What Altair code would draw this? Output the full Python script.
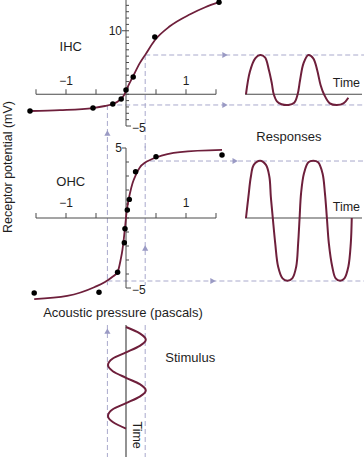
import altair as alt
import pandas as pd

# ---------------- data ----------------
# IHC transfer function: acoustic pressure (Pa) -> receptor potential (mV)
ihc_pts_p = [-1.6, -0.55, -0.22, -0.08, 0.0, 0.12, 0.48, 1.55]
ihc_pts_mv = [-2.64, -2.17, -1.54, -0.75, 0.67, 2.72, 9.0, 14.5]
ihc_curve_p = [-1.6, -1.1, -0.55, -0.35, -0.22, -0.1, -0.03, 0.02, 0.12, 0.23, 0.32, 0.48, 0.73, 1.07, 1.32, 1.55]
ihc_curve_mv = [-2.64, -2.5, -2.17, -1.85, -1.54, -0.9, -0.1, 0.98, 2.87, 4.9, 6.2, 8.5, 10.7, 12.6, 13.7, 14.5]

# OHC transfer function
ohc_pts_p = [-1.53, -0.45, -0.14, -0.028, -0.017, 0.022, 0.055, 0.16, 0.5, 1.6]
ohc_pts_mv = [-5.36, -5.31, -3.88, -1.76, -0.76, 0.57, 1.33, 3.31, 4.38, 4.5]
ohc_curve_p = [-1.53, -0.98, -0.52, -0.35, -0.23, -0.14, -0.09, -0.06, -0.035, -0.012, 0.008, 0.033,
               0.067, 0.11, 0.17, 0.23, 0.32, 0.4, 0.5, 0.9, 1.6]
ohc_curve_mv = [-5.79, -5.57, -4.93, -4.57, -4.21, -3.86, -3.0, -2.29, -1.43, -0.5, 0.36, 1.07,
                1.79, 2.5, 3.14, 3.61, 3.96, 4.14, 4.32, 4.71, 4.86]

# Responses (time in stimulus cycles, potential in mV)
ihc_resp_t = [0.02, 0.10, 0.21, 0.31, 0.41, 0.49, 0.55, 0.59, 0.66, 0.75, 0.89, 1.01, 1.08, 1.13, 1.20,
              1.30, 1.40, 1.48, 1.55, 1.62, 1.74, 1.88, 2.02, 2.12]
ihc_resp_mv = [0.0, 3.55, 5.66, 6.18, 5.82, 3.82, 1.72, 0.0, -1.17, -1.58, -1.69, -1.33, 0.0, 2.24, 4.87,
               6.18, 5.66, 3.82, 1.46, 0.0, -1.43, -1.69, -1.43, -0.54]
ohc_resp_t = [0.02, 0.07, 0.12, 0.18, 0.31, 0.43, 0.50, 0.53, 0.57, 0.62, 0.68, 0.77, 0.87, 0.97, 1.05,
              1.09, 1.12, 1.15, 1.21, 1.30, 1.40, 1.50, 1.59, 1.64, 1.68, 1.72, 1.79, 1.86, 1.95, 2.04,
              2.12, 2.17, 2.19]
ohc_resp_mv = [0.0, 1.52, 2.95, 3.79, 4.09, 3.79, 2.95, 1.52, 0.0, -1.81, -3.48, -4.31, -4.48, -4.31, -3.48,
               -1.81, 0.0, 1.76, 3.19, 3.98, 4.09, 3.98, 3.19, 1.76, 0.0, -1.81, -3.48, -4.31, -4.48, -4.31,
               -3.48, -1.81, 0.0]

# Stimulus (time in cycles, pressure in Pa)
stim_t = [0.04, 0.165, 0.29, 0.41, 0.54, 0.66, 0.79, 0.91, 1.04, 1.165, 1.29, 1.41, 1.54, 1.66, 1.79, 1.91, 2.04]
stim_p = [0.0, 0.23, 0.33, 0.23, 0.0, -0.22, -0.30, -0.22, 0.0, 0.23, 0.33, 0.23, 0.0, -0.22, -0.30, -0.22, 0.0]

# guide levels (stimulus extremes and the response extremes they produce)
stim_lo, stim_hi = -0.31, 0.32
ihc_lo, ihc_hi = -1.69, 6.18
ohc_lo, ohc_hi = -4.5, 4.07

x_ticks = [-1.5, -1, -0.5, 0.5, 1, 1.5]
x_tick_labels = ["\u22121", "1"]
x_tick_label_vals = [-1, 1]
ihc_y_ticks = list(range(-4, 16))
ohc_y_ticks = list(range(-4, 5))

# ---------------- styles ----------------
FONT = "Liberation Sans"
CURVE = "#6e1f3b"
DASH = "#a9a9cc"
ARROW = "#9a9ac4"
AXIS = "#4a4a4a"
TEXT = "#1e1e1e"

# ---------------- scales (one set per panel) ----------------
PX = ([-1.5, 1.5], [36, 216])
IHCY = ([-5, 15], [126, -1])
OHCY = ([-5, 5], [288, 148])
RT = ([0, 2.4], [245, 362])
STY = ([0, 2.6], [325, 457])
GROUPS = {"ihc": (PX, IHCY), "ohc": (PX, OHCY), "ri": (RT, IHCY), "ro": (RT, OHCY), "st": (PX, STY)}


def sc(d):
    return alt.Scale(domain=d[0], range=d[1], nice=False, zero=False)


def base(df, g):
    xs, ys = GROUPS[g]
    return alt.Chart(df), dict(x=alt.X("x:Q", scale=sc(xs), axis=None),
                               y=alt.Y("y:Q", scale=sc(ys), axis=None))


def line(xs, ys, g, color=CURVE, width=1.8, interp="monotone", order=False):
    df = pd.DataFrame({"x": xs, "y": ys, "i": list(range(len(xs)))})
    ch, enc = base(df, g)
    if order:
        enc["order"] = alt.Order("i:Q")
    return ch.mark_line(color=color, strokeWidth=width, interpolate=interp).encode(**enc)


def rules(x, y, x2, y2, g, **mk):
    df = pd.DataFrame({"x": x, "y": y, "x2": x2, "y2": y2})
    ch, enc = base(df, g)
    enc["x2"] = alt.X2("x2:Q")
    enc["y2"] = alt.Y2("y2:Q")
    return ch.mark_rule(**mk).encode(**enc)


def dashed(x, y, x2, y2, g):
    return rules(x, y, x2, y2, g, color=DASH, strokeWidth=1, strokeDash=[5, 3])


def dots(xs, ys, g):
    ch, enc = base(pd.DataFrame({"x": xs, "y": ys}), g)
    return ch.mark_circle(size=30, color="black", opacity=1).encode(**enc)


def arrows(xs, ys, g, shape):
    ch, enc = base(pd.DataFrame({"x": xs, "y": ys}), g)
    return ch.mark_point(shape=shape, filled=True, size=38, color=ARROW, opacity=1).encode(**enc)


def ticks(xs, ys, g, orient, size, **off):
    ch, enc = base(pd.DataFrame({"x": xs, "y": ys}), g)
    return ch.mark_tick(orient=orient, size=size, thickness=1, color=AXIS, opacity=1, **off).encode(**enc)


def text(xs, ys, labels, g, size=13, **mk):
    ch, enc = base(pd.DataFrame({"x": xs, "y": ys, "t": labels}), g)
    enc["text"] = alt.Text("t:N")
    mk.setdefault("align", "center")
    mk.setdefault("baseline", "middle")
    return ch.mark_text(font=FONT, fontSize=size, color=TEXT, **mk).encode(**enc)


layers = []

# dashed guide lines (drawn first)
layers += [
    dashed([stim_lo, stim_hi], [ihc_lo, ihc_hi], [stim_lo, stim_hi], [-8.46, -8.46], "ihc"),
    dashed([stim_lo, stim_hi], [5.14, 5.14], [stim_lo, stim_hi], [-4.8, -4.8], "ohc"),
    dashed([stim_lo, stim_hi], [0, 0], [stim_lo, stim_hi], [2.6, 2.6], "st"),
    dashed([-0.28, 0.32], [ihc_lo, ihc_hi], [4.0, 4.0], [ihc_lo, ihc_hi], "ihc"),
    dashed([stim_lo, 0.4], [ohc_lo, ohc_hi], [4.0, 4.0], [ohc_lo, ohc_hi], "ohc"),
    arrows([1.65, 1.65], [ihc_lo, ihc_hi], "ihc", "triangle-right"),
    arrows([1.45, 1.82], [ohc_lo, ohc_hi], "ohc", "triangle-right"),
    arrows([stim_lo], [-6.1], "ihc", "triangle-up"),
    arrows([stim_hi], [-2.14], "ohc", "triangle-up"),
    arrows([stim_lo], [0.12], "st", "triangle-up"),
]

# axes of the two transfer-function panels
for g, ytop, yt, xlab_dy in (("ihc", 15, ihc_y_ticks, -13), ("ohc", 5, ohc_y_ticks, -15)):
    layers += [
        rules([-1.5], [0], [1.5], [0], g, color=AXIS, strokeWidth=1),
        rules([0], [-5], [0], [ytop], g, color=AXIS, strokeWidth=1),
        ticks(x_ticks, [0] * len(x_ticks), g, "vertical", 5, yOffset=-2.5),
        ticks([0] * len(yt), yt, g, "horizontal", 3, xOffset=1.5),
        ticks([0], [-5], g, "horizontal", 5, xOffset=2.5),
        text(x_tick_label_vals, [0, 0], x_tick_labels, g, size=12, dy=xlab_dy),
        text([0], [-5], ["\u22125"], g, size=12, align="left", dx=6, dy=2),
    ]
layers += [
    ticks([0], [10], "ihc", "horizontal", 4, xOffset=-2),
    text([0], [10], ["10"], "ihc", size=12, align="right", dx=-4),
    ticks([0], [5], "ohc", "horizontal", 4, xOffset=-2),
    text([0], [5], ["5"], "ohc", size=12, align="right", dx=-4),
]

# response and stimulus axes
layers += [
    rules([0], [0], [2.4], [0], "ri", color=AXIS, strokeWidth=1.2),
    rules([0], [0], [2.4], [0], "ro", color=AXIS, strokeWidth=1.2),
    rules([0], [0], [0], [2.6], "st", color=AXIS, strokeWidth=1.2),
]

# curves, data points, waveforms
layers += [
    line(ihc_curve_p, ihc_curve_mv, "ihc"),
    line(ohc_curve_p, ohc_curve_mv, "ohc"),
    dots(ihc_pts_p, ihc_pts_mv, "ihc"),
    dots(ohc_pts_p, ohc_pts_mv, "ohc"),
    line(ihc_resp_t, ihc_resp_mv, "ri", width=2, interp="catmull-rom"),
    line(ohc_resp_t, ohc_resp_mv, "ro", width=2, interp="catmull-rom"),
    line(stim_p, stim_t, "st", width=2, interp="cardinal", order=True),
]

# annotations
layers += [
    text([-0.92], [7.4], ["IHC"], "ihc"),
    text([-0.92], [2.57], ["OHC"], "ohc"),
    text([-1.97], [3.64], ["Receptor potential (mV)"], "ohc", size=12.5, angle=270),
    text([-0.05], [-6.79], ["Acoustic pressure (pascals)"], "ohc"),
    text([1.07], [0.65], ["Stimulus"], "st"),
    text([0.18], [2.17], ["Time"], "st", size=12.5, angle=90),
    text([0.9], [-6.73], ["Responses"], "ri"),
    text([2.08], [1.77], ["Time"], "ri", size=12.5),
    text([2.08], [0.79], ["Time"], "ro", size=12.5),
]

chart = (
    alt.layer(*layers)
    .resolve_scale(x="independent", y="independent")
    .properties(width=364, height=457, padding=0, background="white",
                autosize=alt.AutoSizeParams(type="none"))
    .configure_view(stroke=None)
)

chart.save("out.html", embed_options={"renderer": "svg", "actions": False})
